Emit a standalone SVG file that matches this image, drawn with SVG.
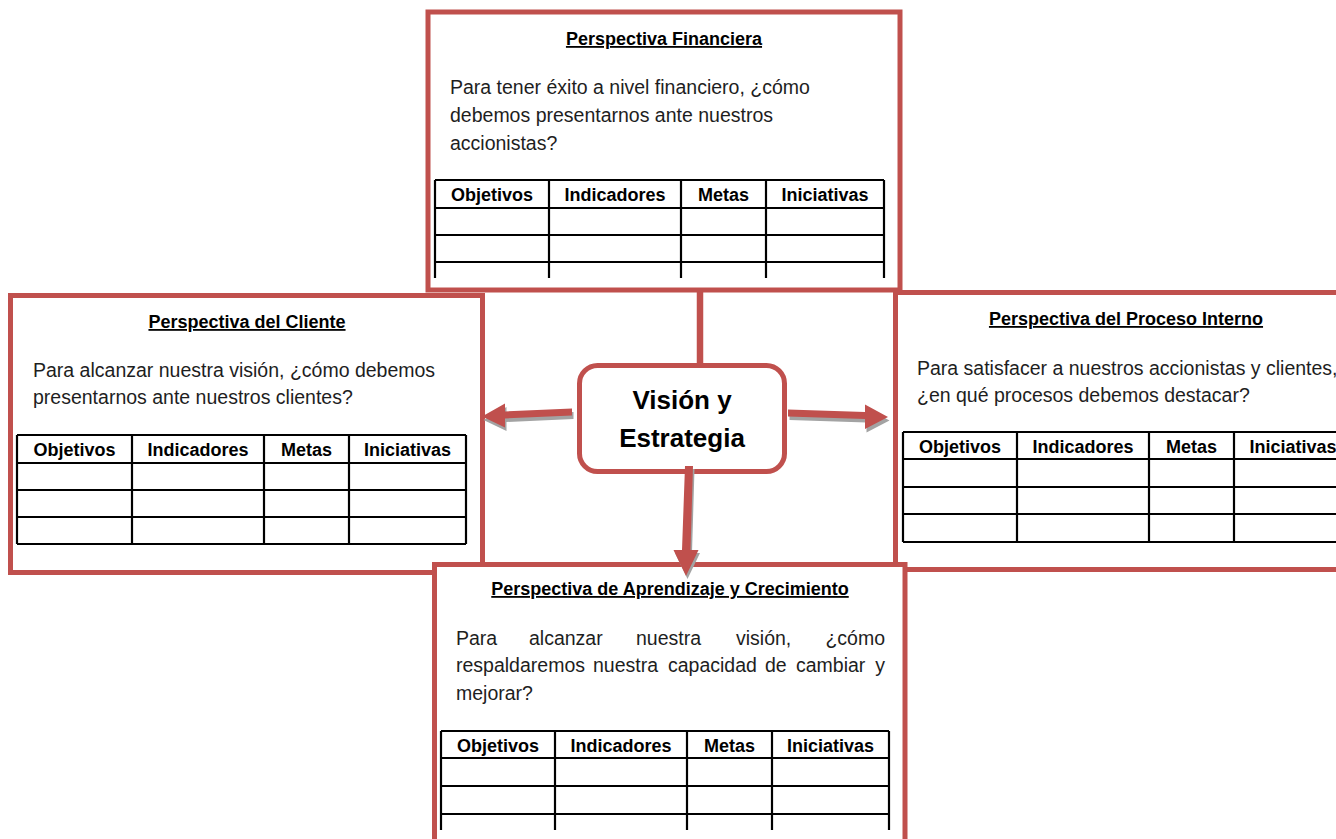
<svg xmlns="http://www.w3.org/2000/svg" width="1336" height="839" viewBox="0 0 1336 839">
  <style>
    .frame { fill: #ffffff; stroke: #C0504D; stroke-width: 5; }
    .title { font-family: "Liberation Sans", Arial, sans-serif; font-size: 18px; font-weight: bold; fill: #000; text-anchor: middle; text-decoration: underline; }
    .body { font-family: "Liberation Sans", Arial, sans-serif; font-size: 19.5px; fill: #1e1e1e; }
    .th { font-family: "Liberation Sans", Arial, sans-serif; font-size: 18px; font-weight: bold; fill: #000; text-anchor: middle; }
    .grid { stroke: #000; stroke-width: 2.2; fill: none; }
    .core { fill: #ffffff; stroke: #C0504D; stroke-width: 5; }
    .core-text { font-family: "Liberation Sans", Arial, sans-serif; font-size: 26px; font-weight: bold; fill: #000; text-anchor: middle; }
    .arrow { fill: #C0504D; }
    .shadow { fill: #a3a3a3; }
    .stem { stroke: #C0504D; stroke-width: 6.5; }
  </style>

  <!-- Financial perspective (top) -->
  <g id="persp-financiera">
    <rect class="frame" x="428" y="12" width="472" height="278"/>
    <text class="title" x="664" y="45">Perspectiva Financiera</text>
    <text class="body" x="450" y="94">Para tener éxito a nivel financiero, ¿cómo</text>
    <text class="body" x="450" y="122">debemos presentarnos ante nuestros</text>
    <text class="body" x="450" y="150">accionistas?</text>
    <path class="grid" d="M435,180 H884 M435,208 H884 M435,235 H884 M435,262 H884 M435,180 V278 M549,180 V278 M681,180 V278 M766,180 V278 M884,180 V278"/>
    <text class="th" x="492" y="201">Objetivos</text>
    <text class="th" x="615" y="201">Indicadores</text>
    <text class="th" x="723.5" y="201">Metas</text>
    <text class="th" x="825" y="201">Iniciativas</text>
  </g>

  <!-- Customer perspective (left) -->
  <g id="persp-cliente">
    <rect class="frame" x="10.5" y="295.5" width="472" height="277"/>
    <text class="title" x="247" y="328">Perspectiva del Cliente</text>
    <text class="body" x="33" y="377">Para alcanzar nuestra visión, ¿cómo debemos</text>
    <text class="body" x="33" y="404">presentarnos ante nuestros clientes?</text>
    <path class="grid" d="M17,435 H466 M17,463 H466 M17,490 H466 M17,517 H466 M17,544 H466 M17,435 V544 M132,435 V544 M264,435 V544 M349,435 V544 M466,435 V544"/>
    <text class="th" x="74.5" y="456">Objetivos</text>
    <text class="th" x="198" y="456">Indicadores</text>
    <text class="th" x="306.5" y="456">Metas</text>
    <text class="th" x="407.5" y="456">Iniciativas</text>
  </g>

  <!-- Internal process perspective (right, runs past the page edge) -->
  <g id="persp-proceso">
    <rect class="frame" x="895.5" y="292.5" width="470" height="277"/>
    <text class="title" x="1126" y="325">Perspectiva del Proceso Interno</text>
    <text class="body" x="917" y="375">Para satisfacer a nuestros accionistas y clientes,</text>
    <text class="body" x="917" y="402">¿en qué procesos debemos destacar?</text>
    <path class="grid" d="M903,432 H1352 M903,459 H1352 M903,487 H1352 M903,514 H1352 M903,542 H1352 M903,432 V542 M1017,432 V542 M1149,432 V542 M1234,432 V542 M1352,432 V542"/>
    <text class="th" x="960" y="453">Objetivos</text>
    <text class="th" x="1083" y="453">Indicadores</text>
    <text class="th" x="1191.5" y="453">Metas</text>
    <text class="th" x="1293" y="453">Iniciativas</text>
  </g>

  <!-- Learning and growth perspective (bottom, runs past the page edge) -->
  <g id="persp-aprendizaje">
    <rect class="frame" x="434.5" y="564.5" width="470.5" height="300"/>
    <text class="title" x="670" y="595">Perspectiva de Aprendizaje y Crecimiento</text>
    <text class="body" y="645"><tspan x="456">Para</tspan><tspan x="529">alcanzar</tspan><tspan x="636">nuestra</tspan><tspan x="736">visión,</tspan></text>
    <text class="body" x="885" y="645" text-anchor="end">¿cómo</text>
    <text class="body" y="672"><tspan x="456">respaldaremos</tspan><tspan x="593">nuestra</tspan><tspan x="668">capacidad</tspan><tspan x="765">de</tspan><tspan x="796">cambiar</tspan></text>
    <text class="body" x="885" y="672" text-anchor="end">y</text>
    <text class="body" x="456" y="700">mejorar?</text>
    <path class="grid" d="M441,731 H889 M441,758 H889 M441,786 H889 M441,814 H889 M441,731 V830 M555,731 V830 M687,731 V830 M772,731 V830 M889,731 V830"/>
    <text class="th" x="498" y="752">Objetivos</text>
    <text class="th" x="621" y="752">Indicadores</text>
    <text class="th" x="729.5" y="752">Metas</text>
    <text class="th" x="830.5" y="752">Iniciativas</text>
  </g>

  <!-- Vision and strategy (centre) -->
  <g id="vision">
    <rect class="core" x="579.5" y="365.5" width="205" height="106" rx="18" ry="18"/>
    <text class="core-text" x="682" y="409">Visión y</text>
    <text class="core-text" x="682" y="447">Estrategia</text>
  </g>

  <!-- Connectors -->
  <g id="connectors">
    <line class="stem" x1="700" y1="292" x2="700" y2="364"/>
    <!-- shadows -->
    <polygon class="shadow" transform="translate(1.5,3.5)" points="572,408.5 505,411.5 505,403.5 482,416.5 505,427.5 505,418.5 572,415.5"/>
    <polygon class="shadow" transform="translate(1.5,3.5)" points="788,409.5 865,412 865,404.5 888,417 865,429 865,419 788,416.5"/>
    <polygon class="shadow" transform="translate(1.5,3)" points="685,466 693,466 690.5,550 698.5,550 686,576 673.5,550 682,550"/>
    <!-- arrows -->
    <polygon class="arrow" points="572,408.5 505,411.5 505,403.5 482,416.5 505,427.5 505,418.5 572,415.5"/>
    <polygon class="arrow" points="788,409.5 865,412 865,404.5 888,417 865,429 865,419 788,416.5"/>
    <polygon class="arrow" points="685,466 693,466 690.5,550 698.5,550 686,576 673.5,550 682,550"/>
  </g>
</svg>
